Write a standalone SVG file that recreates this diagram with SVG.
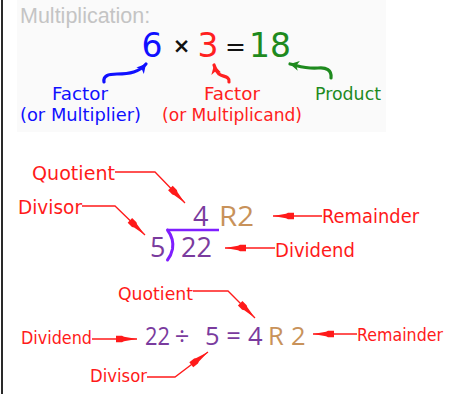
<svg xmlns="http://www.w3.org/2000/svg" width="463" height="394" viewBox="0 0 463 394">
<defs>
<style>
.lbl{font-family:"DejaVu Sans","Noto Sans",sans-serif;fill:#ff1a1a}
.lead{fill:none;stroke:#ff1a1a;stroke-width:1.3}
.swoosh{fill:none;stroke-width:3.2;stroke-linecap:round}
.cm{font-family:"DejaVu Sans",sans-serif;text-anchor:middle}
.tl{font-family:"DejaVu Sans",sans-serif;font-size:17px}
.num{font-family:"Open Sans","Noto Sans",sans-serif;fill:#7a3b9e}
.rem{font-family:"Open Sans","Noto Sans",sans-serif;fill:#c8925a}
</style>
<marker id="spike" viewBox="-23 -4 24 8" refX="0" refY="0" markerWidth="24" markerHeight="8" markerUnits="userSpaceOnUse" orient="auto">
<path d="M0,0 L-13,-2.2 L-15,-3.2 L-21,-3.2 L-21,3.2 L-15,3.2 L-13,2.2 Z" fill="#ff1a1a"/>
</marker>
<marker id="hb" viewBox="-10 -6 11 12" refX="0" refY="0" markerWidth="11" markerHeight="12" markerUnits="userSpaceOnUse" orient="auto">
<path d="M0,0 L-9,-5 L-6.5,0 L-9,5 Z" fill="#1010ff"/>
</marker>
<marker id="hr" viewBox="-10 -6 11 12" refX="0" refY="0" markerWidth="11" markerHeight="12" markerUnits="userSpaceOnUse" orient="auto">
<path d="M0,0 L-9,-5 L-6.5,0 L-9,5 Z" fill="#ff2020"/>
</marker>
<marker id="hg" viewBox="-10 -6 11 12" refX="0" refY="0" markerWidth="11" markerHeight="12" markerUnits="userSpaceOnUse" orient="auto">
<path d="M0,0 L-9,-5 L-6.5,0 L-9,5 Z" fill="#1e8a1e"/>
</marker>
</defs>
<rect x="0" y="0" width="463" height="394" fill="#ffffff"/>
<rect x="17" y="0" width="369" height="132" fill="#fafafa"/>
<rect x="1" y="0" width="2" height="394" fill="#2a2a2a"/>

<g id="title">
<text x="20" y="23" font-family="Liberation Sans, Arial, sans-serif" font-size="21.5" fill="#c4c4c4">Multiplication:</text>
</g>

<g id="mult-equation">
<text class="cm" x="152" y="57" fill="#1010ff" font-size="33">6</text>
<text class="cm" x="181.5" y="53" fill="#111" font-size="21" font-weight="bold">×</text>
<text class="cm" x="208" y="57" fill="#ff2020" font-size="33">3</text>
<text class="cm" x="235.5" y="55" fill="#111" font-size="25">=</text>
<text class="cm" x="270" y="57" fill="#1e8a1e" font-size="33">18</text>
</g>

<g id="factor-multiplier">
<text class="tl" x="52" y="100" fill="#1010ff" textLength="56" lengthAdjust="spacingAndGlyphs">Factor</text>
<text class="tl" x="20" y="121" fill="#1010ff" textLength="121" lengthAdjust="spacingAndGlyphs">(or Multiplier)</text>
</g>
<g id="factor-multiplicand">
<text class="tl" x="204" y="100" fill="#ff2020" textLength="56" lengthAdjust="spacingAndGlyphs">Factor</text>
<text class="tl" x="162" y="121" fill="#ff2020" textLength="140" lengthAdjust="spacingAndGlyphs">(or Multiplicand)</text>
</g>
<g id="product">
<text class="tl" x="315" y="100" fill="#1e8a1e" textLength="66" lengthAdjust="spacingAndGlyphs">Product</text>
</g>

<g id="long-division">
<text class="num" x="193" y="226" font-size="27">4</text>
<text class="rem" x="219" y="226" font-size="27" textLength="35" lengthAdjust="spacingAndGlyphs">R2</text>
<text class="num" x="150" y="257" font-size="27">5</text>
<text class="num" x="181" y="257" font-size="27">22</text>
<path d="M167,230 L219,230" stroke="#7f1fff" stroke-width="2.6" fill="none"/>
<path d="M167.5,230 C172,236 173.5,243 172.5,249 C171.5,254 169.5,257.5 167.5,260" stroke="#7f1fff" stroke-width="3" fill="none" stroke-linecap="round"/>
</g>

<g id="ld-quotient"><text class="lbl" x="32" y="180" font-size="19" textLength="83" lengthAdjust="spacingAndGlyphs">Quotient</text></g>
<g id="ld-divisor"><text class="lbl" x="18" y="214" font-size="19" textLength="64" lengthAdjust="spacingAndGlyphs">Divisor</text></g>
<g id="ld-remainder"><text class="lbl" x="322" y="223" font-size="19" textLength="97" lengthAdjust="spacingAndGlyphs">Remainder</text></g>
<g id="ld-dividend"><text class="lbl" x="275" y="257" font-size="19" textLength="80" lengthAdjust="spacingAndGlyphs">Dividend</text></g>

<g id="div-equation">
<text class="num" x="145" y="345" font-size="25.5" textLength="25" lengthAdjust="spacingAndGlyphs">22</text>
<text class="num" x="182" y="345" font-size="25.5" text-anchor="middle">÷</text>
<text class="num" x="205" y="345" font-size="25.5">5</text>
<text class="num" x="233.5" y="345" font-size="25.5" text-anchor="middle">=</text>
<text class="num" x="248" y="345" font-size="25.5">4</text>
<text class="rem" x="268" y="345" font-size="25.5">R</text>
<text class="rem" x="291" y="345" font-size="25.5">2</text>
</g>

<g id="eq-quotient"><text class="lbl" x="118" y="300" font-size="18" textLength="75" lengthAdjust="spacingAndGlyphs">Quotient</text></g>
<g id="eq-dividend"><text class="lbl" x="21" y="344" font-size="18" textLength="71" lengthAdjust="spacingAndGlyphs">Dividend</text></g>
<g id="eq-remainder"><text class="lbl" x="357" y="341" font-size="18" textLength="86" lengthAdjust="spacingAndGlyphs">Remainder</text></g>
<g id="eq-divisor"><text class="lbl" x="90" y="382" font-size="18" textLength="57" lengthAdjust="spacingAndGlyphs">Divisor</text></g>

<g id="connectors">
<path class="swoosh" stroke="#1010ff" d="M104,82 C103,76 108,74 117,74 C130,74 139,72 146,64" marker-end="url(#hb)"/>
<path class="swoosh" stroke="#ff2020" d="M229,82 C230,76 223,77 219,74 C216,71 215,69 214,65" marker-end="url(#hr)"/>
<path class="swoosh" stroke="#1e8a1e" d="M331,78 C332,70 326,67 318,68 C306,69 299,66 290,64" marker-end="url(#hg)"/>

<path class="lead" d="M115,172 L155,172 L185,203" marker-end="url(#spike)"/>
<path class="lead" d="M82,206 L115,206 L145,235" marker-end="url(#spike)"/>
<path class="lead" d="M322,216 L273,216" marker-end="url(#spike)"/>
<path class="lead" d="M275,248 L225,248" marker-end="url(#spike)"/>

<path class="lead" d="M193,291 L228,291 L255,318" marker-end="url(#spike)"/>
<path class="lead" d="M92,339 L137,339" marker-end="url(#spike)"/>
<path class="lead" d="M357,334 L313,334" marker-end="url(#spike)"/>
<path class="lead" d="M147,377 L175,377 L208,352" marker-end="url(#spike)"/>
</g>
</svg>
